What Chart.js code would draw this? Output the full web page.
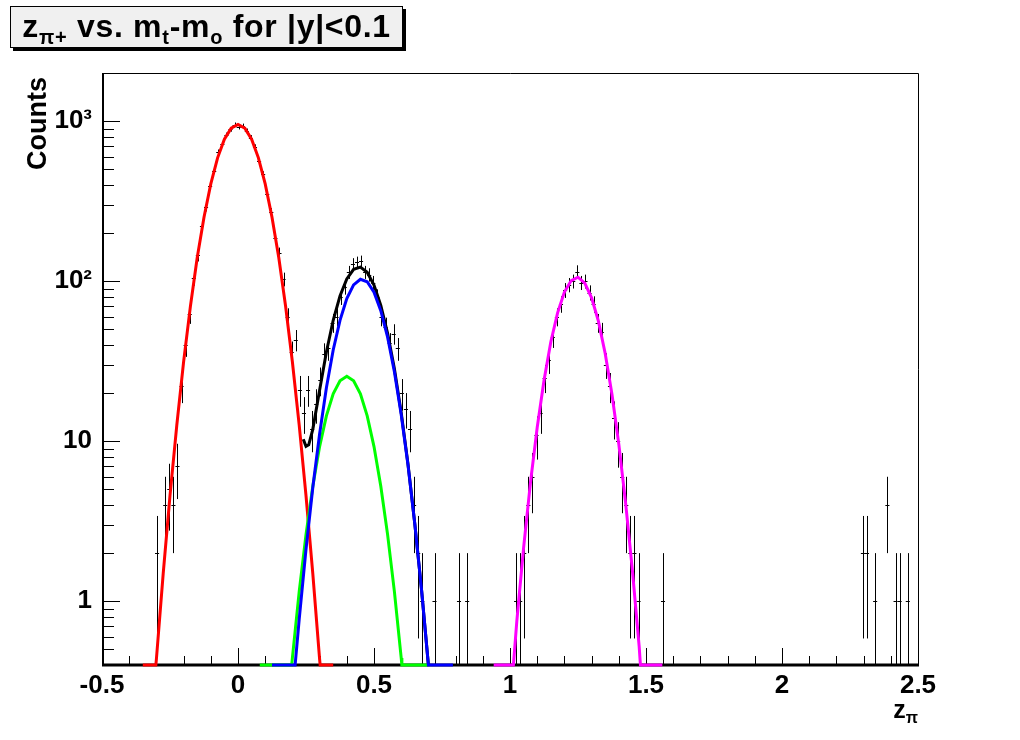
<!DOCTYPE html>
<html>
<head>
<meta charset="utf-8">
<script src="https://cdn.jsdelivr.net/npm/chart.js@4.4.0/dist/chart.umd.min.js"></script>
<style>
body{margin:0;background:#fff;}
#wrap{position:relative;width:1020px;height:740px;font-family:"Liberation Sans",Arial,sans-serif;font-weight:bold;color:#000;}
#c{position:absolute;left:0;top:0;}
#title{position:absolute;left:10px;top:6px;width:391px;height:40px;background:#f0f0f0;border:1px solid #000;box-shadow:3px 3px 0 #000;font-size:32px;line-height:38px;text-align:center;white-space:nowrap;letter-spacing:0.7px;}
#title sub{font-size:20px;vertical-align:-7px;line-height:0;}
#ytitle{position:absolute;left:0;top:0;font-size:27px;line-height:30px;white-space:nowrap;transform-origin:0 0;transform:translate(22px,170px) rotate(-90deg);}
#xtitle{position:absolute;right:102px;top:694px;font-size:25px;line-height:30px;white-space:nowrap;}
#xtitle sub{font-size:16px;vertical-align:-5px;line-height:0;}
</style>
</head>
<body>
<div id="wrap">
<canvas id="c" width="1020" height="740"></canvas>
<div id="title">z<sub>π+</sub> vs. m<sub>t</sub>-m<sub>o</sub> for |y|&lt;0.1</div>
<div id="ytitle">Counts</div>
<div id="xtitle">z<sub>π</sub></div>
</div>
<script>
// tick labels
const xTickLabels = [-0.5, 0, 0.5, 1, 1.5, 2, 2.5];
const yTickLabels = [1, 10, 100, 1000];
const yTickText = ['1', '10', '10²', '10³'];

// histogram bins (centres) and counts
const binX = [-0.2975, -0.2675, -0.2525, -0.2375, -0.2225, -0.2075, -0.1925, -0.1775, -0.1625, -0.1475,
  -0.1325, -0.1175, -0.1025, -0.0875, -0.0725, -0.0575, -0.0425, -0.0275, -0.0125, 0.0025,
  0.0175, 0.0325, 0.0475, 0.0625, 0.0775, 0.0925, 0.1075, 0.1225, 0.1375, 0.1525,
  0.1675, 0.1825, 0.1975, 0.2125, 0.2275, 0.2425, 0.2575, 0.2725, 0.2875, 0.3025,
  0.3175, 0.3325, 0.3475, 0.3625, 0.3775, 0.3925, 0.4075, 0.4225, 0.4375, 0.4525,
  0.4675, 0.4825, 0.4975, 0.5125, 0.5275, 0.5425, 0.5575, 0.5725, 0.5875, 0.6025,
  0.6175, 0.6325, 0.6475, 0.6625, 0.6775, 0.7225, 0.8125, 0.8425,
  1.0225, 1.0375, 1.0525, 1.0675, 1.0825, 1.0975, 1.1125, 1.1275, 1.1425, 1.1575,
  1.1725, 1.1875, 1.2025, 1.2175, 1.2325, 1.2475, 1.2625, 1.2775, 1.2925, 1.3075,
  1.3225, 1.3375, 1.3525, 1.3675, 1.3825, 1.3975, 1.4125, 1.4275, 1.4425, 1.4575,
  1.4725, 1.5625,
  2.2975, 2.3125, 2.3425, 2.3875, 2.4175, 2.4325, 2.4625];
const binCounts = [2, 4, 5, 4, 7, 22, 40, 62, 104, 145,
  220, 290, 395, 490, 640, 720, 820, 890, 950, 918,
  935, 870, 790, 690, 560, 465, 350, 270, 185, 150,
  103, 60, 36, 43, 21, 15, 21, 12, 17, 24,
  35, 38, 55, 60, 80, 92, 114, 128, 131, 133,
  114, 110, 98, 80, 60, 52, 41, 47, 38, 20,
  16, 12, 4, 2, 1, 1, 1, 1,
  1, 1, 2, 4, 6, 11, 15, 25, 32, 45,
  60, 72, 88, 95, 100, 115, 98, 100, 85, 72,
  55, 48, 30, 22, 14, 10, 6, 4, 2, 2,
  1, 1,
  2, 2, 1, 4, 1, 1, 1];
const binWidth = 0.015;

// fitted curves (values under the axis minimum sit on it)
const redX = [-0.35, -0.325, -0.302, -0.3, -0.275, -0.25, -0.225, -0.2, -0.175, -0.15, -0.125, -0.1, -0.075, -0.05, -0.025, 0,
  0.025, 0.05, 0.075, 0.1, 0.125, 0.15, 0.175, 0.2, 0.225, 0.25, 0.275, 0.3, 0.302, 0.325, 0.35];
const redY = [0.4, 0.4, 0.4, 0.435, 1.49, 4.57, 12.6, 31.3, 69.7, 140, 251, 406, 590, 771, 905, 955,
  905, 771, 590, 406, 251, 140, 69.7, 31.3, 12.6, 4.57, 1.49, 0.435, 0.4, 0.4, 0.4];

const greenX = [0.08, 0.1975, 0.2, 0.225, 0.25, 0.275, 0.3, 0.325, 0.35, 0.375, 0.4, 0.425, 0.45, 0.475, 0.5, 0.525, 0.55, 0.575, 0.6, 0.6025, 0.7];
const greenY = [0.4, 0.4, 0.443, 1.15, 2.61, 5.24, 9.26, 14.4, 19.8, 23.9, 25.5, 23.9, 19.8, 14.4, 9.26, 5.24, 2.61, 1.15, 0.443, 0.4, 0.4];

const blueX = [0.125, 0.21, 0.225, 0.25, 0.275, 0.3, 0.325, 0.35, 0.375, 0.4, 0.425, 0.45, 0.475, 0.5, 0.525, 0.55, 0.575, 0.6, 0.625, 0.65, 0.675, 0.7, 0.79];
const blueY = [0.4, 0.4, 0.77, 2.11, 5.14, 11.1, 21.6, 37.2, 57.0, 77.9, 94.8, 102.8, 99.3, 85.4, 65.5, 44.7, 27.2, 14.7, 7.1, 3.05, 1.17, 0.4, 0.4];

const totalX = [0.24, 0.25, 0.26, 0.275, 0.3, 0.325, 0.35, 0.375, 0.4, 0.425, 0.45, 0.475, 0.5, 0.525, 0.55, 0.575, 0.6, 0.625, 0.65, 0.675, 0.7];
const totalY = [10.3, 9.29, 9.5, 11.87, 20.8, 36.1, 57.0, 80.9, 103.4, 118.7, 122.6, 113.7, 94.7, 70.7, 47.3, 28.4, 15.1, 7.2, 3.05, 1.17, 0.4];

const magentaX = [0.94, 1.0125, 1.025, 1.05, 1.075, 1.1, 1.125, 1.15, 1.175, 1.2, 1.225, 1.25, 1.275, 1.3, 1.325, 1.35, 1.375, 1.4, 1.425, 1.45, 1.475, 1.4795, 1.56];
const magentaY = [0.4, 0.4, 0.75, 2.16, 5.47, 12.2, 24.0, 41.7, 63.5, 85.5, 101, 106, 97.3, 78.8, 56.3, 35.4, 19.6, 9.6, 4.12, 1.56, 0.52, 0.4, 0.4];

function pts(xs, ys) {
  return xs.map((x, i) => ({x: x, y: ys[i]}));
}

function curve(xs, ys, color) {
  return {
    data: pts(xs, ys),
    showLine: true,
    borderColor: color,
    borderWidth: 3,
    pointRadius: 0,
    fill: false,
    tension: 0,
    clip: 3
  };
}

const FONT = '"Liberation Sans", Arial, sans-serif';

// frame, inward ticks and error bars, all drawn under the fit curves
const rootFrame = {
  id: 'rootFrame',
  beforeDatasetsDraw(chart) {
    const ctx = chart.ctx, xs = chart.scales.x, ys = chart.scales.y, a = chart.chartArea;
    ctx.save();
    ctx.strokeStyle = '#000';
    ctx.lineWidth = 1;
    ctx.beginPath();
    for (let k = 0; k <= 30; k++) {
      const v = -0.5 + k * 0.1;
      const px = Math.round(xs.getPixelForValue(v)) + 0.5;
      const len = k % 5 === 0 ? 17 : 9;
      ctx.moveTo(px, a.bottom);
      ctx.lineTo(px, a.bottom - len);
    }
    [0.1, 1, 10, 100, 1000].forEach(d => {
      for (let m = 1; m <= 9; m++) {
        const v = m * d;
        if (v < 0.4 || v > 2000) continue;
        const py = Math.round(ys.getPixelForValue(v)) + 0.5;
        const len = m === 1 ? 18 : 12;
        ctx.moveTo(a.left, py);
        ctx.lineTo(a.left + len, py);
      }
    });
    ctx.stroke();

    ctx.beginPath();
    ctx.moveTo(a.left, a.top + 0.5);
    ctx.lineTo(a.right + 0.5, a.top + 0.5);
    ctx.lineTo(a.right + 0.5, a.bottom);
    ctx.stroke();
    ctx.lineWidth = 2;
    ctx.beginPath();
    ctx.moveTo(a.left + 1, a.top);
    ctx.lineTo(a.left + 1, a.bottom);
    ctx.stroke();

    // error bars
    ctx.save();
    ctx.beginPath();
    ctx.rect(a.left, a.top, a.right - a.left, a.bottom - a.top);
    ctx.clip();
    ctx.lineWidth = 1;
    ctx.beginPath();
    binX.forEach((x, i) => {
      const n = binCounts[i];
      const e = Math.sqrt(n);
      const px = Math.round(xs.getPixelForValue(x)) + 0.5;
      const py = Math.round(ys.getPixelForValue(n)) + 0.5;
      const top = ys.getPixelForValue(n + e);
      const bot = n - e > 0 ? ys.getPixelForValue(n - e) : a.bottom;
      ctx.moveTo(px, top);
      ctx.lineTo(px, bot);
      ctx.moveTo(xs.getPixelForValue(x - binWidth / 2), py);
      ctx.lineTo(xs.getPixelForValue(x + binWidth / 2), py);
    });
    ctx.stroke();
    ctx.restore();

    ctx.lineWidth = 3;
    ctx.beginPath();
    ctx.moveTo(a.left, a.bottom);
    ctx.lineTo(a.right + 1, a.bottom);
    ctx.stroke();
    ctx.restore();
  }
};

new Chart(document.getElementById('c'), {
  type: 'scatter',
  data: {
    datasets: [
      curve(blueX, blueY, '#0000ff'),
      curve(greenX, greenY, '#00ff00'),
      curve(redX, redY, '#ff0000'),
      curve(magentaX, magentaY, '#ff00ff'),
      curve(totalX, totalY, '#000000')
    ]
  },
  options: {
    responsive: false,
    animation: false,
    layout: {padding: {left: 0, right: 102, top: 73, bottom: 0}},
    plugins: {legend: {display: false}, tooltip: {enabled: false}},
    scales: {
      x: {
        type: 'linear',
        min: -0.5,
        max: 2.5,
        grid: {display: false, drawTicks: false},
        border: {display: false},
        afterBuildTicks: s => { s.ticks = xTickLabels.map(v => ({value: v})); },
        afterFit: s => { s.height = 75; },
        ticks: {
          autoSkip: false,
          maxRotation: 0,
          padding: 5,
          color: '#000',
          font: {family: FONT, size: 26, weight: 'bold'},
          callback: v => String(v)
        }
      },
      y: {
        type: 'logarithmic',
        min: 0.4,
        max: 2000,
        grid: {display: false, drawTicks: false},
        border: {display: false},
        afterBuildTicks: s => { s.ticks = yTickLabels.map(v => ({value: v})); },
        afterFit: s => { s.width = 102; },
        ticks: {
          autoSkip: false,
          padding: 10,
          color: '#000',
          font: {family: FONT, size: 26, weight: 'bold'},
          callback: v => yTickText[yTickLabels.indexOf(v)]
        }
      }
    }
  },
  plugins: [rootFrame]
});
</script>
</body>
</html>
